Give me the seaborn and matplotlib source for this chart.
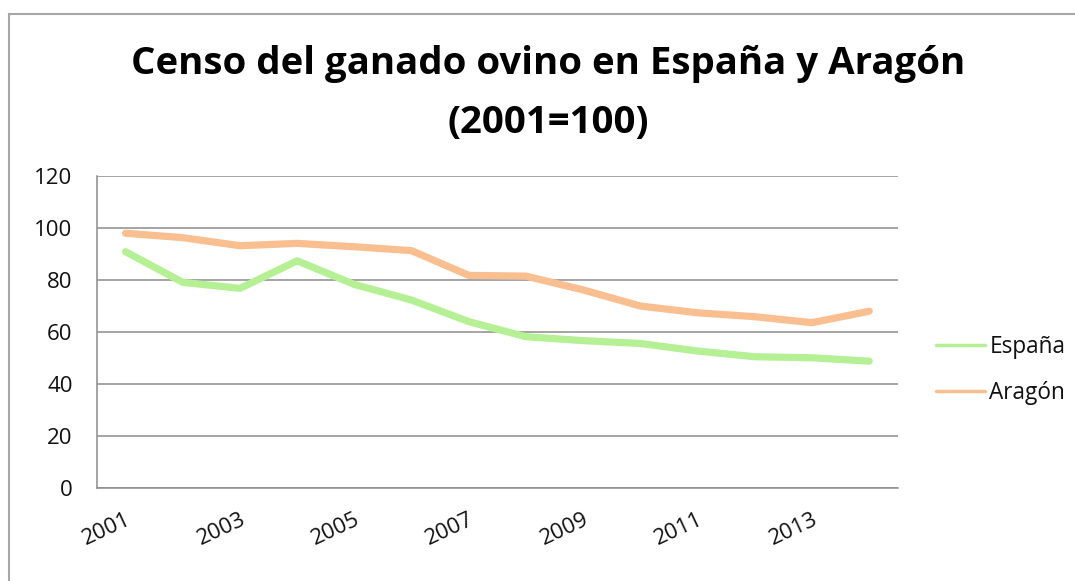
import pandas as pd
import numpy as np
import matplotlib.pyplot as plt
import matplotlib.patches as mpatches
import seaborn as sns

# Datos (índice 2001=100)
years = [2001, 2002, 2003, 2004, 2005, 2006, 2007, 2008, 2009, 2010, 2011, 2012, 2013, 2014]
espana = [90.9, 79.1, 76.8, 87.4, 78.3, 72.3, 64.0, 58.2, 56.7, 55.6, 52.7, 50.5, 50.1, 48.8]
aragon = [98.0, 96.3, 93.2, 94.1, 92.8, 91.3, 81.8, 81.5, 76.2, 70.0, 67.4, 65.9, 63.6, 68.0]
series_names = ['España', 'Aragón']
colors = ['#b6f095', '#fabf90']

df = pd.DataFrame({'Año': years, 'España': espana, 'Aragón': aragon})
df_long = df.melt(id_vars='Año', var_name='Serie', value_name='Valor')

sns.set_style('white')
plt.rcParams['font.family'] = ['Open Sans', 'DejaVu Sans']

fig = plt.figure(figsize=(10.75, 5.81), dpi=100)
ax = fig.add_axes([0.0902, 0.160, 0.745, 0.537])

sns.lineplot(data=df_long, x='Año', y='Valor', hue='Serie', hue_order=series_names,
             palette=colors, linewidth=5.2, solid_capstyle='round', ax=ax, legend=False)

grid_c = '#8c8c8c'
txt_c = '#111111'
ax.set_ylim(0, 120)
ax.set_yticks(np.arange(0, 121, 20))
ax.yaxis.grid(True, color=grid_c, linewidth=1.1)
ax.set_axisbelow(True)
ax.set_xlim(years[0] - 0.5, years[-1] + 0.5)

# marcas en los límites de categoría, etiquetas en años impares
ax.set_xticks(np.arange(years[0] - 0.5, years[-1] + 1.0, 1.0))
ax.set_xticklabels([])
ax.set_xticks(years[::2], minor=True)
ax.set_xticklabels([str(y) for y in years[::2]], minor=True, rotation=25,
                   ha='right', rotation_mode='anchor', fontsize=16, color=txt_c)
ax.tick_params(axis='x', which='minor', length=0, pad=15)
ax.tick_params(axis='x', which='major', length=6.5, width=1.1, color=grid_c, direction='out')
ax.tick_params(axis='y', length=6.5, width=1.1, color=grid_c, direction='out',
               labelsize=16, labelcolor=txt_c, pad=11)

for s in ['top', 'right']:
    ax.spines[s].set_visible(False)
for s in ['left', 'bottom']:
    ax.spines[s].set_color(grid_c)
    ax.spines[s].set_linewidth(1.1)
ax.set_xlabel('')
ax.set_ylabel('')

handles = [plt.Line2D([], [], color=c, linewidth=2.5) for c in colors]
fig.legend(handles, series_names, loc='center left', bbox_to_anchor=(0.852, 0.363),
           frameon=False, fontsize=16.3, handlelength=2.15, handletextpad=0.2,
           labelspacing=0.95, labelcolor=txt_c)

fig.text(0.51, 0.889, 'Censo del ganado ovino en España y Aragón', ha='center', va='center',
         fontsize=27.6, fontweight='bold', color='black')
fig.text(0.51, 0.788, '(2001=100)', ha='center', va='center',
         fontsize=27.6, fontweight='bold', color='black')

# marco del área del gráfico
frame = mpatches.Rectangle((9 / 1075, -0.05), 1.2, 1 - 14 / 581 + 0.05, transform=fig.transFigure,
                           fill=False, edgecolor='#a6a6a6', linewidth=1.5)
fig.patches.append(frame)

fig.savefig('out.png', dpi=100)
